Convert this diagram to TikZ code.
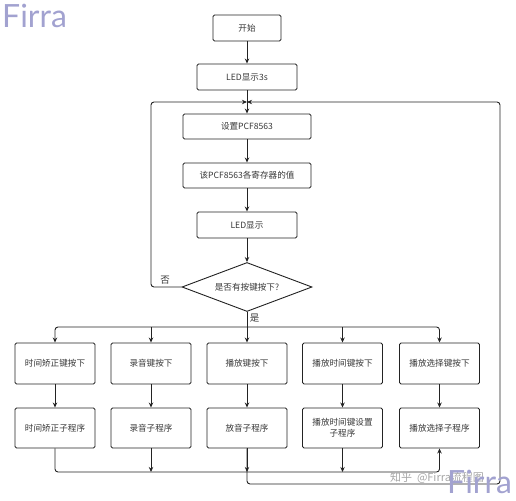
\documentclass[tikz,border=0pt]{standalone}
\usepackage{fontspec}
\setmainfont{Noto Sans CJK SC}
\newfontfamily\wmfont{Lato}
\usetikzlibrary{arrows.meta,shapes.geometric}
\definecolor{ln}{RGB}{35,35,35}
\definecolor{tx}{RGB}{55,55,55}
\definecolor{wm}{RGB}{162,162,208}
\tikzset{
  box/.style={draw=ln, line width=0.9pt, rounded corners=1.5pt, inner sep=0pt, align=center, text=tx, font=\fontsize{8.6}{11}\selectfont},
  arr/.style={draw=ln, line width=0.9pt, -{Stealth[length=5pt,width=4.4pt]}},
  ln/.style={draw=ln, line width=0.9pt},
  lbl/.style={text=tx, font=\fontsize{9.5}{11}\selectfont, inner sep=0pt},
  wmark/.style={inner sep=0pt, text=wm, font=\wmfont\fontsize{32}{32}\selectfont},
}
\begin{document}
\begin{tikzpicture}[x=1pt,y=-1pt]
\useasboundingbox (0,0) rectangle (516,500);
% watermark
\node[wmark, anchor=base west] (wm1) at (2,28) {Firra};
% main chain
\node[box, minimum width=68pt, minimum height=26pt] (start) at (247,28) {开始};
\node[box, minimum width=100pt, minimum height=26pt] (led3) at (247,77) {LED显示3s};
\node[box, minimum width=128pt, minimum height=25pt] (set) at (247,126.5) {设置PCF8563};
\node[box, minimum width=128pt, minimum height=25pt] (read) at (247,175.5) {该PCF8563各寄存器的值};
\node[box, minimum width=100pt, minimum height=26pt] (led) at (247,225) {LED显示};
\node[draw=ln, line width=0.9pt, diamond, minimum width=130pt, minimum height=49pt, inner sep=0pt] (dia) at (247,287) {};
\node[text=tx, font=\fontsize{8.6}{11}\selectfont, inner sep=0pt] (diat) at (dia.center) {是否有按键按下?};
\coordinate (join) at (247,102);
\coordinate (br) at (247,327);
% rows
\foreach \n/\x/\a/\b in {1/55/时间矫正键按下/时间矫正子程序, 2/151/录音键按下/录音子程序, 3/247/播放键按下/放音子程序, 5/439.5/播放选择键按下/播放选择子程序}{
  \node[box, minimum width=80pt, minimum height=41pt] (ra\n) at (\x,363.5) {\a};
  \node[box, minimum width=80pt, minimum height=40pt] (rb\n) at (\x,428) {\b};
}
\node[box, minimum width=80pt, minimum height=41pt] (ra4) at (342.5,363.5) {播放时间键按下};
\node[box, minimum width=80pt, minimum height=40pt] (rb4) at (342.5,428) {播放时间键设置\\子程序};
\coordinate (m1) at (55,472);
\coordinate (m5) at (439.5,472);
\coordinate (lb) at (247,484);
\coordinate (rb) at (500,484);
\coordinate (rt) at (500,102);
\coordinate (lt) at (151,102);
\coordinate (ll) at (151,287);
% connectors
\draw[arr] (start) -- (led3);
\draw[arr] (led3) -- (set);
\draw[arr] (set) -- (read);
\draw[arr] (read) -- (led);
\draw[arr] (led) -- (dia);
\draw[arr, rounded corners=3pt] (dia.west) -- (ll) -- (lt) -- (join);
\node[lbl] (no) at (165,280) {否};
\draw[ln] (dia.south) -- (br);
\node[lbl] (yes) at (254.5,318) {是};
\draw[arr, rounded corners=3pt] (br) -| (ra1.north);
\draw[arr, rounded corners=3pt] (br) -| (ra5.north);
\draw[arr] (ra2.north |- br) -- (ra2.north);
\draw[arr] (br) -- (ra3.north);
\draw[arr] (ra4.north |- br) -- (ra4.north);
\foreach \n in {1,...,5}{\draw[arr] (ra\n) -- (rb\n);}
\draw[arr, rounded corners=3pt] (rb1.south) -- (m1) -- (m5) -- (rb5.south);
\draw[arr] (rb2.south) -- (rb2.south |- m1);
\draw[arr] (rb3.south) -- (rb3.south |- m1);
\draw[arr] (rb4.south) -- (rb4.south |- m1);
\draw[arr, rounded corners=3pt] (rb3.south) -- (lb) -- (rb) -- (rt) -- (join);
% bottom watermarks
\node[inner sep=0pt, text=black!35, font=\fontsize{11}{11}\selectfont] (zh) at (437,478) {知乎\ \ @Firra流程图};
\node[wmark, anchor=base west] (wm2) at (447,493) {Firra};
\end{tikzpicture}
\end{document}
